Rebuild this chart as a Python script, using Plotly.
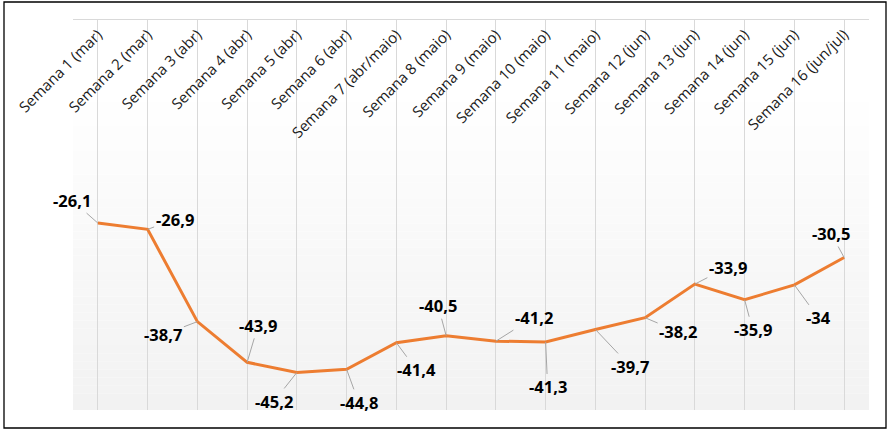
import plotly.graph_objects as go

categories = ["Semana 1 (mar)", "Semana 2 (mar)", "Semana 3 (abr)", "Semana 4 (abr)",
              "Semana 5 (abr)", "Semana 6 (abr)", "Semana 7 (abr/maio)", "Semana 8 (maio)",
              "Semana 9 (maio)", "Semana 10 (maio)", "Semana 11 (maio)", "Semana 12 (jun)",
              "Semana 13 (jun)", "Semana 14 (jun)", "Semana 15 (jun)", "Semana 16 (jun/jul)"]
values = [-26.1, -26.9, -38.7, -43.9, -45.2, -44.8, -41.4, -40.5,
          -41.2, -41.3, -39.7, -38.2, -33.9, -35.9, -34.0, -30.5]

# label offsets in pixels (dx, dy) relative to each point
label_dx = [-26, 27, -34, 11, -23, 12, 20, -8, 38, 2, 35, 33, 33, 8, 24, -13]
label_dy = [-23, -10, 13, -37, 29, 33, 27, -30, -24, 45, 37, 14, -17, 30, 33, -24]

W, H = 890, 433
ML, MR, MT, MB = 73, 21, 19, 23
pw, ph = W - ML - MR, H - MT - MB


def fmt(v):
    s = ("%.1f" % v)
    if s.endswith(".0"):
        s = s[:-2]
    return s.replace(".", ",")


fig = go.Figure()
fig.add_trace(go.Scatter(x=categories, y=values, mode="lines",
                         line=dict(color="#ED7D31", width=3), hoverinfo="skip",
                         showlegend=False))

shapes = []
# background gradient (white -> light gray toward bottom)
n = 40
start = 0.83  # gradient begins at this paper-y fraction from bottom
for i in range(n):
    y0 = start * i / n
    y1 = start * (i + 1) / n
    t = 1 - (i + 0.5) / n
    g = int(round(255 - (255 - 242) * t))
    shapes.append(dict(type="rect", xref="paper", yref="paper", x0=0, x1=1, y0=y0, y1=y1,
                       fillcolor="rgb(%d,%d,%d)" % (g, g, g), line=dict(width=0), layer="below"))

# outer border
shapes.append(dict(type="rect", xref="paper", yref="paper",
                   x0=(4 - ML) / pw, x1=(886 - ML) / pw,
                   y0=-(428 - (MT + ph)) / ph, y1=(MT + ph - 2) / ph,
                   line=dict(color="black", width=1.3), fillcolor="rgba(0,0,0,0)", layer="above"))

annotations = []
for c, v, dx, dy in zip(categories, values, label_dx, label_dy):
    annotations.append(dict(x=c, y=v, xref="x", yref="y", text="<b>%s</b>" % fmt(v),
                            showarrow=True, arrowhead=0, arrowwidth=1, arrowcolor="#a6a6a6",
                            ax=dx, ay=dy, standoff=0,
                            font=dict(family="Open Sans", size=16.5, color="black")))

fig.update_layout(
    width=W, height=H,
    margin=dict(l=ML, r=MR, t=MT, b=MB, autoexpand=False),
    paper_bgcolor="white", plot_bgcolor="white",
    shapes=shapes, annotations=annotations,
    hovermode=False,
    xaxis=dict(type="category", anchor="free", position=1, side="bottom",
               tickangle=-45, showgrid=True, gridcolor="#d9d9d9", gridwidth=1,
               showline=True, linecolor="#d9d9d9", linewidth=1, ticks="",
               automargin=False,
               tickfont=dict(family="Open Sans", size=15, color="#1a1a1a"),
               range=[-0.5, len(categories) - 0.5], fixedrange=True),
    yaxis=dict(range=[-50, 0], showgrid=False, zeroline=False, showticklabels=False,
               showline=False, ticks="", fixedrange=True, automargin=False),
)

fig.write_html("out.html", config={"displayModeBar": False},
               post_script="document.body.style.margin='0px';")
